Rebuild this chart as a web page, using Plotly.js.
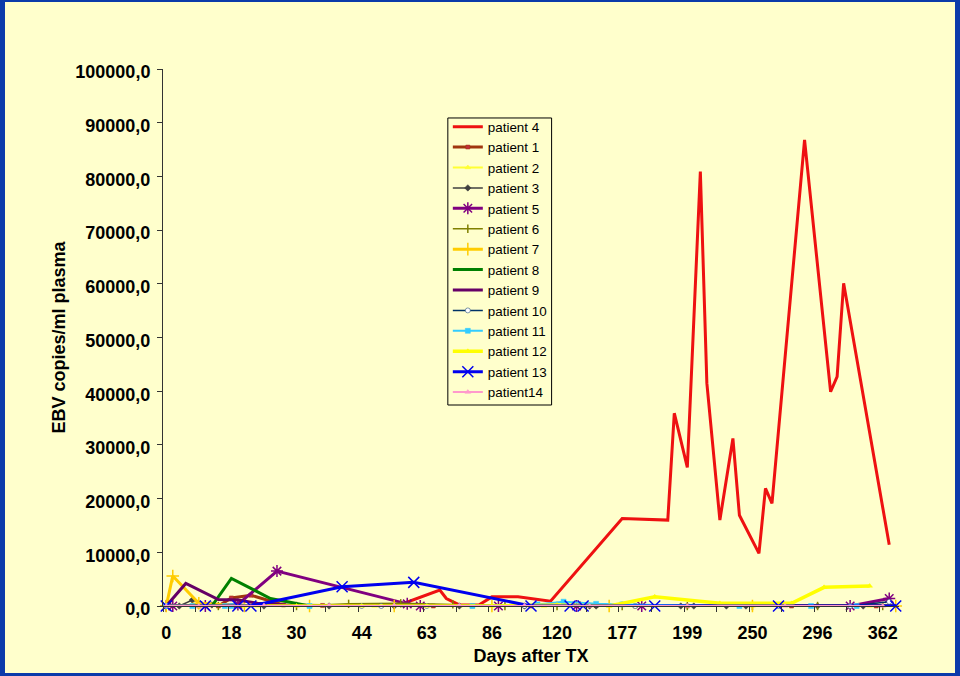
<!DOCTYPE html>
<html>
<head>
<meta charset="utf-8">
<script src="https://cdn.plot.ly/plotly-3.0.1.min.js"></script>
<style>
  html, body { margin: 0; padding: 0; width: 960px; height: 676px; background: #0B3BAA; overflow: hidden; }
  #chart { position: absolute; left: 5px; top: 2px; width: 950px; height: 671px; }
</style>
</head>
<body>
<div id="chart"></div>
<script>
// Category axis: sample number (evenly spaced categories, 113 of them)
const dayLabels = ["0", "18", "30", "44", "63", "86", "120", "177", "199", "250", "296", "362"];
const labelIdx  = [0, 10, 20, 30, 40, 50, 60, 70, 80, 90, 100, 110];

// patient 4
const p4_idx = [0, 10, 20, 30, 36, 42, 43, 45, 48, 50, 54, 59, 70, 77, 78, 80, 82, 83, 85, 87, 88, 91, 92, 93, 98, 102, 103, 104, 111];
const p4_val = [0, 0, 0, 0, 300, 2980, 1400, 200, 200, 1700, 1700, 900, 16300, 16000, 35900, 25800, 80900, 41500, 16000, 31200, 16900, 9800, 21900, 19100, 86800, 39900, 42700, 60100, 11400];
// patient 1
const p1_idx = [0, 5, 8, 10, 13, 18, 24, 33, 41, 47, 56, 66, 72, 80, 96, 109];
const p1_val = [0, 0, 0, 1500, 2000, 200, 100, 100, 0, 0, 0, 100, 0, 0, 0, 0];
// patient 2
const p2_idx = [0, 6, 14, 22, 32, 45, 58, 68, 90, 108];
const p2_val = [0, 0, 0, 0, 0, 0, 0, 0, 0, 0];
// patient 3
const p3_idx = [0, 2, 4, 7, 15, 25, 35, 45, 55, 65, 66, 79, 81, 86, 89, 100, 107];
const p3_val = [0, 0, 1100, 200, 0, 0, 0, 0, 0, 0, 0, 0, 0, 0, 0, 0, 0];
// patient 5
const p5_idx = [0, 1, 6, 11, 17, 37, 39, 51, 63, 73, 105, 111];
const p5_val = [0, 0, 0, 300, 6500, 400, 0, 0, 0, 0, 0, 1400];
// patient 6
const p6_idx = [0, 8, 20, 28, 36, 44, 52, 60, 70, 80, 90, 100, 110];
const p6_val = [0, 0, 0, 400, 500, 300, 0, 0, 0, 0, 0, 0, 0];
// patient 7
const p7_idx = [0, 1, 5, 12, 22, 35, 50, 68, 90, 112];
const p7_val = [0, 5600, 500, 0, 0, 0, 0, 0, 0, 0];
// patient 8
const p8_idx = [0, 7, 10, 16, 22, 40, 60, 80, 100, 112];
const p8_val = [0, 0, 5150, 1400, 0, 0, 0, 0, 0, 0];
// patient 9
const p9_idx = [0, 3, 8, 11, 14, 20, 40, 112];
const p9_val = [0, 4200, 1200, 1100, 500, 0, 0, 0];
// patient 10
const p10_idx = [0, 30, 33, 40, 55, 72, 94, 105, 111];
const p10_val = [0, 0, 0, 0, 0, 0, 0, 0, 800];
// patient 11
const p11_idx = [0, 4, 9, 10, 22, 47, 57, 61, 66, 70, 88, 99, 106];
const p11_val = [0, 0, 0, 0, 0, 0, 300, 800, 400, 300, 0, 0, 0];
// patient 12
const p12_idx = [0, 5, 12, 20, 30, 40, 50, 60, 68, 75, 85, 96, 101, 108];
const p12_val = [0, 0, 0, 0, 0, 0, 0, 200, 0, 1730, 500, 500, 3480, 3720];
// patient 13
const p13_idx = [0, 6, 11, 13, 27, 38, 56, 62, 64, 75, 94, 112];
const p13_val = [0, 0, 0, 0, 3600, 4400, 0, 0, 0, 0, 0, 0];
// patient14
const p14_idx = [0, 5, 15, 25, 35, 45, 55, 65, 80, 95, 110];
const p14_val = [0, 0, 100, 100, 100, 100, 100, 0, 0, 0, 0];

const seriesNames = ["patient 4", "patient 1", "patient 2", "patient 3", "patient 5", "patient 6", "patient 7",
                     "patient 8", "patient 9", "patient 10", "patient 11", "patient 12", "patient 13", "patient14"];

function tr(name, xs, ys, color, width, symbol, msize, mcolor, mline) {
  const t = {
    type: 'scatter', name: name, x: xs, y: ys, cliponaxis: false,
    mode: symbol ? 'lines+markers' : 'lines',
    line: { color: color, width: width }
  };
  if (symbol) {
    t.marker = { symbol: symbol, size: msize, color: mcolor || color,
                 line: { color: mline || color, width: symbol.indexOf('open') >= 0 ? 1.5 : 0.5 } };
  }
  return t;
}

const data = [
  tr(seriesNames[0],  p4_idx,  p4_val,  '#EE1111', 3),
  tr(seriesNames[1],  p1_idx,  p1_val,  '#A0360E', 3, 'square', 4, '#C0303A'),
  tr(seriesNames[2],  p2_idx,  p2_val,  '#FFFF33', 2, 'triangle-up', 5),
  tr(seriesNames[3],  p3_idx,  p3_val,  '#404040', 1.5, 'diamond', 5),
  tr(seriesNames[4],  p5_idx,  p5_val,  '#800080', 3, 'asterisk-open', 10),
  tr(seriesNames[5],  p6_idx,  p6_val,  '#808000', 1.5, 'line-ns-open', 6),
  tr(seriesNames[6],  p7_idx,  p7_val,  '#FFCC00', 3, 'cross-thin-open', 9),
  tr(seriesNames[7],  p8_idx,  p8_val,  '#008000', 3),
  tr(seriesNames[8],  p9_idx,  p9_val,  '#660066', 3),
  tr(seriesNames[9],  p10_idx, p10_val, '#003366', 1.5, 'circle', 5, '#FFFFFF', '#003366'),
  tr(seriesNames[10], p11_idx, p11_val, '#33CCFF', 2, 'square', 5),
  tr(seriesNames[11], p12_idx, p12_val, '#FFFF00', 3.5, 'triangle-up', 5),
  tr(seriesNames[12], p13_idx, p13_val, '#0000EE', 3, 'x-thin-open', 11),
  tr(seriesNames[13], p14_idx, p14_val, '#FF99CC', 2, 'triangle-up', 5)
];

const minorTicks = [];
for (let b = -0.5; b <= 112.5; b += 5) minorTicks.push(b);

const layout = {
  width: 950, height: 671,
  margin: { l: 158, r: 55.5, t: 67, b: 67 },
  paper_bgcolor: '#FFFFCC', plot_bgcolor: '#FFFFCC',
  separators: ',.',
  font: { family: 'Arial, Liberation Sans, sans-serif', color: '#000000' },
  showlegend: true,
  legend: {
    x: 0.387, y: 0.921, xanchor: 'left', yanchor: 'top',
    bgcolor: 'rgba(0,0,0,0)', borderwidth: 0,
    font: { size: 13.4, family: 'Arial, Liberation Sans, sans-serif', color: '#000000' },
    itemwidth: 30, traceorder: 'normal'
  },
  shapes: [{
    type: 'rect', xref: 'paper', yref: 'paper',
    x0: 0.387, x1: 0.528, y0: 0.3743, y1: 0.9088,
    line: { color: '#000000', width: 1 }, fillcolor: '#FFFFCC', layer: 'below'
  }],
  xaxis: {
    type: 'linear', range: [-0.5, 112.5], fixedrange: true,
    tickmode: 'array', tickvals: labelIdx, ticktext: dayLabels,
    ticks: '', showgrid: false, zeroline: false,
    showline: true, linecolor: '#333333', linewidth: 1,
    tickfont: { size: 18, family: 'Arial, Liberation Sans, sans-serif', weight: 'bold', color: '#000000' },
    ticklabelstandoff: 10,
    minor: { tickmode: 'array', tickvals: minorTicks, ticks: 'outside', ticklen: 5, tickcolor: '#333333', tickwidth: 1, showgrid: false },
    title: { text: 'Days after TX', font: { size: 18, weight: 'bold', color: '#000000' }, standoff: 7 }
  },
  yaxis: {
    range: [0, 100000], dtick: 10000, tick0: 0, tickformat: '.1f', fixedrange: true,
    ticks: 'outside', ticklen: 5, tickcolor: '#333333', tickwidth: 1,
    showgrid: false, zeroline: false,
    showline: true, linecolor: '#333333', linewidth: 1,
    tickfont: { size: 18, family: 'Arial, Liberation Sans, sans-serif', weight: 'bold', color: '#000000' },
    ticklabelstandoff: 3, ticklabelshift: 3,
    title: { text: 'EBV copies/ml plasma', font: { size: 18, weight: 'bold', color: '#000000' }, standoff: 5 }
  }
};

Plotly.newPlot('chart', data, layout, { displayModeBar: false, staticPlot: true });
</script>
</body>
</html>
